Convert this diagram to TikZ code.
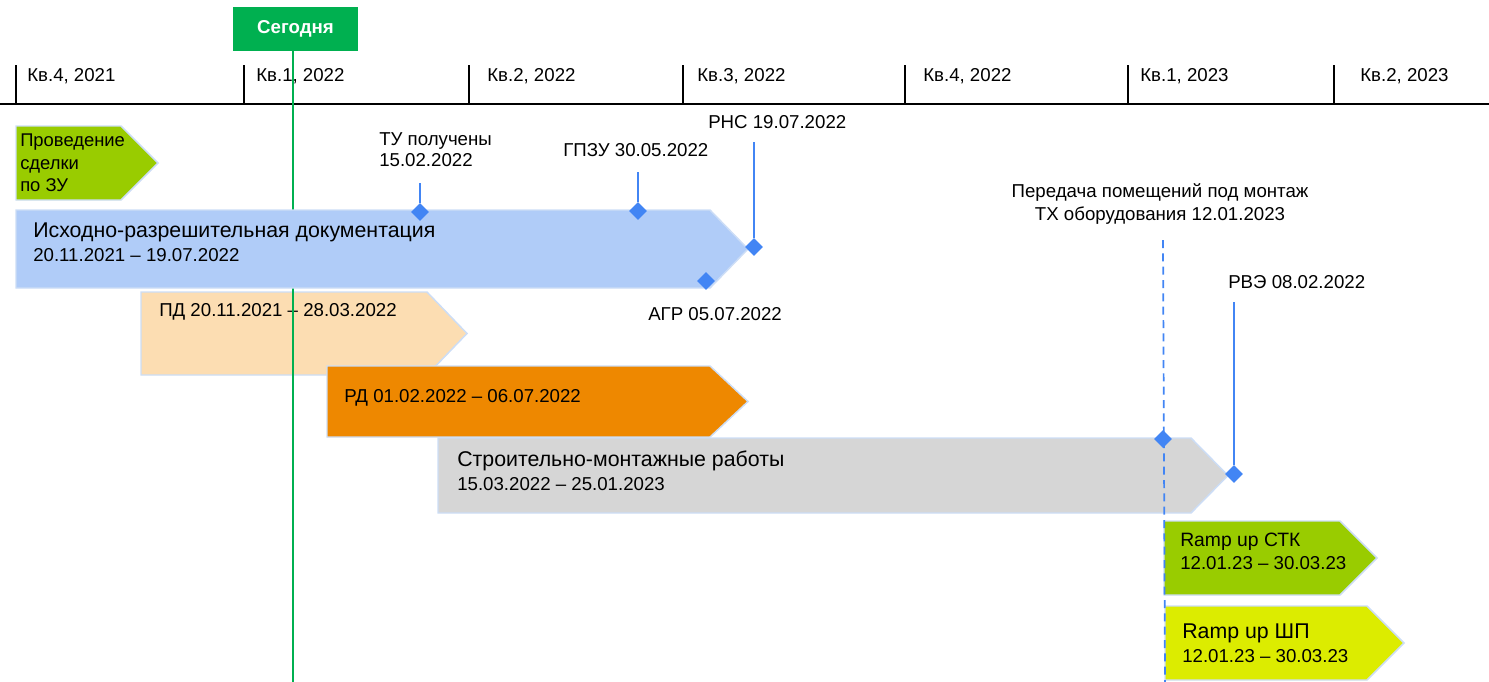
\documentclass[tikz,border=0pt]{standalone}
\usepackage{fontspec}
\setmainfont{Liberation Sans}
\usetikzlibrary{shapes.geometric}
\definecolor{todaygreen}{HTML}{00B050}
\definecolor{leafgreen}{HTML}{99CC00}
\definecolor{irdblue}{HTML}{B0CCF8}
\definecolor{pdpeach}{HTML}{FCDDB2}
\definecolor{rdorange}{HTML}{EE8800}
\definecolor{smrgray}{HTML}{D6D6D6}
\definecolor{shpyellow}{HTML}{DCEC00}
\definecolor{msblue}{HTML}{4285F4}
\definecolor{barline}{HTML}{CCDDF6}
\newcommand\pentabar[6]{\filldraw[fill=#6, draw=barline, line width=1.1pt, line join=miter]
  (#1,#2) -- (#3,#2) -- (#4,{(#2+#5)/2}) -- (#3,#5) -- (#1,#5) -- cycle;}
\begin{document}
\begin{tikzpicture}[x=0.75pt,y=-0.75pt,
  hdr/.style={font=\fontsize{14}{16}\selectfont, anchor=west, inner sep=0},
  lbl/.style={font=\fontsize{14}{15.5}\selectfont, anchor=west, inner sep=0, align=left},
  bigt/.style={font=\fontsize{16}{18}\selectfont, anchor=west, inner sep=0},
  ms/.style={diamond, fill=msblue, inner sep=0, minimum width=13.5pt, minimum height=13.5pt},
  msline/.style={draw=msblue, line width=1.5pt},
  tick/.style={line width=1.1pt}]
\useasboundingbox (0,0) rectangle (1489,682);

% header
\coordinate (axl) at (0,104);
\coordinate (axr) at (1489,104);
\draw[line width=1.6pt] (axl) -- (axr);
\foreach \x/\n in {16/t1,244/t2,469/t3,683/t4,905/t5,1128/t6,1334/t7}{
  \coordinate (\n) at (\x,65);
  \draw[tick] (\n) -- (\n |- axl);
}
\node[hdr] (q1) at (27,76) {Кв.4, 2021};
\node[hdr] (q2) at (256,76) {Кв.1, 2022};
\node[hdr] (q3) at (487,76) {Кв.2, 2022};
\node[hdr] (q4) at (697,76) {Кв.3, 2022};
\node[hdr] (q5) at (923,76) {Кв.4, 2022};
\node[hdr] (q6) at (1140,76) {Кв.1, 2023};
\node[hdr] (q7) at (1360,76) {Кв.2, 2023};

% today
\node[fill=todaygreen, text=white, font=\fontsize{14}{16}\bfseries\selectfont,
  minimum width=93.75pt, minimum height=33pt, inner sep=0] (today) at (295.5,29) {Сегодня};
\coordinate (todayend) at (293,682);

% deal
\pentabar{16}{126}{121}{158}{200}{leafgreen}
\node[font=\fontsize{13.8}{17}\selectfont, anchor=west, inner sep=0, align=left] (deal) at (20,163) {Проведение\\сделки\\по ЗУ};

% PD (below today line)
\pentabar{141}{292}{427}{467}{375}{pdpeach}
\node[lbl] (pd) at (159,312) {ПД 20.11.2021 – 28.03.2022};

\draw[todaygreen, line width=1.5pt] (today.south -| todayend) -- (todayend);

% IRD
\pentabar{16}{210}{710}{748}{288}{irdblue}
\node[bigt] (irdt) at (33,232) {Исходно-разрешительная документация};
\node[lbl] (irdd) at (33,255) {20.11.2021 – 19.07.2022};

% RD
\pentabar{327}{366}{710}{748}{437}{rdorange}
\node[lbl] (rd) at (344,398) {РД 01.02.2022 – 06.07.2022};

% SMR
\pentabar{438}{438}{1191}{1228}{513}{smrgray}
\node[bigt] (smrt) at (457,461) {Строительно-монтажные работы};
\node[lbl] (smrd) at (457,484) {15.03.2022 – 25.01.2023};

% Ramp up
\pentabar{1164}{521}{1340}{1377}{595}{leafgreen}
\node[font=\fontsize{14.5}{16}\selectfont, anchor=west, inner sep=0] (stkt) at (1180,542) {Ramp up СТК};
\node[lbl] (stkd) at (1180,563) {12.01.23 – 30.03.23};
\pentabar{1165}{606}{1367}{1404}{680}{shpyellow}
\node[font=\fontsize{16}{18}\selectfont, anchor=west, inner sep=0] (shpt) at (1182,633) {Ramp up ШП};
\node[lbl] (shpd) at (1182,656) {12.01.23 – 30.03.23};

% milestones
\node[lbl] (tul) at (379,150) {ТУ получены\\15.02.2022};
\coordinate (tutop) at (420,183);
\node[ms] (tu) at (420,212) {};
\draw[msline] (tutop) -- (tu.north);

\node[lbl] (gpzul) at (563,150) {ГПЗУ 30.05.2022};
\coordinate (gpzutop) at (638,172);
\node[ms] (gpzu) at (638,211) {};
\draw[msline] (gpzutop) -- (gpzu.north);

\node[lbl] (rnsl) at (708,122) {РНС 19.07.2022};
\coordinate (rnstop) at (754,142);
\node[ms] (rns) at (754,247) {};
\draw[msline] (rnstop) -- (rns.north);

\node[ms] (agr) at (706,281) {};
\node[lbl] (agrl) at (648,314) {АГР 05.07.2022};

\node[font=\fontsize{14}{17}\selectfont, inner sep=0, align=center] (perl) at (1160,204) {Передача помещений под монтаж\\ТХ оборудования 12.01.2023};
\coordinate (pertop) at (1163,240);
\coordinate (perbot) at (1165,682);
\draw[msline, line width=1.3pt, dash pattern=on 6pt off 4pt] (pertop) -- (perbot);
\node[ms] (per) at (1163,439) {};

\node[lbl] (rvel) at (1228,282) {РВЭ 08.02.2022};
\coordinate (rvetop) at (1234,302);
\node[ms] (rve) at (1234,474) {};
\draw[msline] (rvetop) -- (rve.north);
\end{tikzpicture}
\end{document}
